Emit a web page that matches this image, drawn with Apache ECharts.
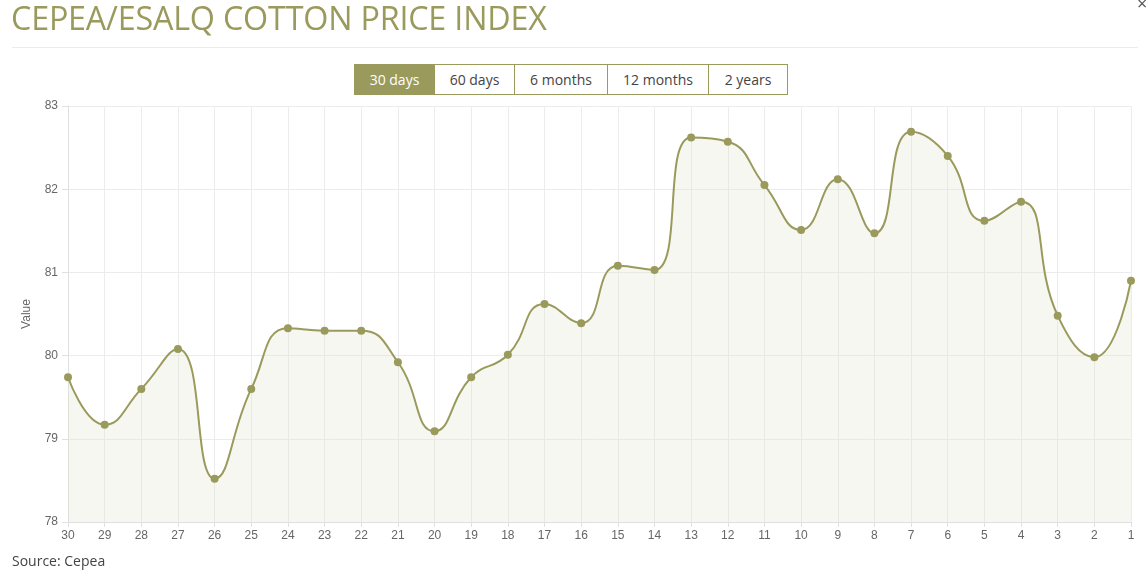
<!DOCTYPE html>
<html>
<head>
<meta charset="utf-8">
<script src="https://cdn.jsdelivr.net/npm/echarts@6/dist/echarts.min.js"></script>
<style>
  html, body { margin: 0; padding: 0; background: #fff; }
  body { width: 1148px; height: 575px; position: relative; overflow: hidden; font-family: 'Open Sans', sans-serif; }
  #title { position: absolute; left: 11px; top: -5px; font-size: 32.3px; color: #9a9a5c; letter-spacing: -0.2px; white-space: nowrap; }
  #close { position: absolute; left: 1137px; top: -9px; font-size: 18px; color: #555; }
  #rule { position: absolute; left: 12px; top: 47px; width: 1126px; height: 1px; background: #ececec; }
  #btns { position: absolute; left: 354px; top: 64px; height: 31px; display: flex; }
  #btns div { box-sizing: border-box; height: 31px; line-height: 29px; font-size: 14px; color: #444; text-align: center; border: 1px solid #9a9a5c; border-left: none; background: #fff; }
  #btns div:first-child { border-left: 1px solid #9a9a5c; }
  #btns div.on { background: #9a9a5c; color: #fff; }
  #source { position: absolute; left: 12px; top: 551px; font-size: 14px; color: #444; }
  #chart { position: absolute; left: 0; top: 0; width: 1148px; height: 575px; }
</style>
</head>
<body>
<div id="chart"></div>
<div id="title">CEPEA/ESALQ COTTON PRICE INDEX</div>
<div id="close">×</div>
<div id="rule"></div>
<div id="btns">
  <div class="on" style="width:81px">30 days</div>
  <div style="width:80px">60 days</div>
  <div style="width:93px">6 months</div>
  <div style="width:101px">12 months</div>
  <div style="width:79px">2 years</div>
</div>
<div id="source">Source: Cepea</div>
<script>
const days = ['30', '29', '28', '27', '26', '25', '24', '23', '22', '21', '20', '19', '18', '17', '16',
  '15', '14', '13', '12', '11', '10', '9', '8', '7', '6', '5', '4', '3', '2', '1'];
const prices = [79.74, 79.17, 79.60, 80.08, 78.52, 79.60, 80.33, 80.30, 80.30, 79.92, 79.09, 79.74, 80.01, 80.62, 80.39,
  81.08, 81.03, 82.62, 82.57, 82.05, 81.51, 82.12, 81.47, 82.69, 82.40, 81.62, 81.85, 80.48, 79.98, 80.90];
const yTicks = [78, 79, 80, 81, 82, 83];

const olive = '#9a9a5c';
const chart = echarts.init(document.getElementById('chart'), null, { renderer: 'canvas' });
chart.setOption({
  animation: false,
  grid: { left: 68, right: 17, top: 106, bottom: 53 },
  xAxis: {
    type: 'category',
    data: days,
    boundaryGap: false,
    axisLine: { lineStyle: { color: '#e0e0e0' } },
    axisTick: { show: true, alignWithLabel: true, length: 5, lineStyle: { color: '#e0e0e0' } },
    axisLabel: { color: '#666', fontSize: 12, fontFamily: 'Liberation Sans, Arial', margin: 8 },
    splitLine: { show: true, lineStyle: { color: '#ececec' } }
  },
  yAxis: {
    type: 'value',
    min: yTicks[0],
    max: yTicks[yTicks.length - 1],
    interval: 1,
    name: 'Value',
    nameLocation: 'middle',
    nameGap: 35,
    nameTextStyle: { color: '#666', fontSize: 12, fontFamily: 'Liberation Sans, Arial' },
    axisLine: { show: true, lineStyle: { color: '#e0e0e0' } },
    axisTick: { show: true, length: 6, lineStyle: { color: '#e0e0e0' } },
    axisLabel: { color: '#666', fontSize: 12, fontFamily: 'Liberation Sans, Arial', margin: 10 },
    splitLine: { lineStyle: { color: '#ececec' } }
  },
  series: [{
    type: 'line',
    data: prices,
    smooth: 0.5,
    symbol: 'circle',
    symbolSize: 8,
    itemStyle: { color: olive },
    lineStyle: { color: olive, width: 2 },
    areaStyle: { color: 'rgba(225,225,205,0.4)', origin: 'start' }
  }]
});
</script>
</body>
</html>
